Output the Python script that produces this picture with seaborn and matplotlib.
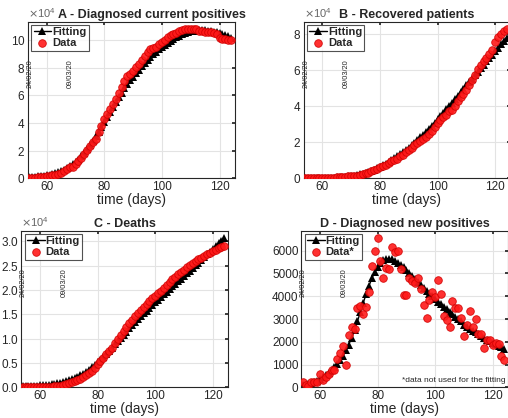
import numpy as np
import pandas as pd
import matplotlib
matplotlib.use('Agg')
import matplotlib.pyplot as plt
import seaborn as sns
from matplotlib.ticker import ScalarFormatter

# giorni (0 = 1 gennaio 2020), dal 24/02 al 04/05
days = list(range(54, 125))

# A - positivi attuali
current_data = [221, 311, 385, 588, 821, 1049, 1577, 1835, 2263, 2706, 3296, 3916, 5061, 6387, 7985,
                8514, 10590, 12839, 14955, 17750, 20603, 23073, 26062, 28710, 33190, 37860, 42681,
                46638, 50418, 54030, 57521, 62013, 66414, 70065, 73880, 75528, 77635, 80572, 83049,
                85388, 88274, 91246, 93187, 94067, 95262, 96877, 98273, 100269, 102253, 103616,
                104291, 105418, 106607, 106962, 107771, 108257, 108237, 107709, 107699, 106848,
                106527, 105847, 106103, 105813, 105205, 104657, 101551, 100943, 100704, 100179, 99980]
current_fit = [900, 1000, 1150, 1350, 1600, 1900, 2250, 2700, 3200, 3800, 4500, 5350, 6350, 7500, 8850,
               10100, 11500, 13500, 15800, 18300, 21000, 23900, 27000, 30300, 33700, 37200, 40800,
               44400, 48000, 51600, 55100, 58500, 61800, 65000, 68000, 70900, 73600, 76200, 78700,
               81100, 83400, 85600, 87700, 89700, 91600, 93400, 95100, 96700, 98200, 99600, 100900,
               102100, 103200, 104200, 105100, 105800, 106400, 106800, 107000, 107100, 107100,
               107000, 106800, 106500, 106100, 105600, 105000, 104300, 103500, 102700, 101800]

# B - guariti
recovered_data = [1, 1, 3, 45, 46, 50, 83, 149, 160, 276, 414, 523, 589, 622, 724, 1004, 1045, 1258,
                  1439, 1966, 2335, 2749, 2941, 4025, 4440, 5129, 6072, 7024, 7432, 8326, 9362, 10361,
                  10950, 12384, 13030, 14620, 15729, 16847, 18278, 19758, 20996, 21815, 22837, 24392,
                  26491, 28470, 30455, 32534, 34211, 35435, 37130, 38092, 40164, 42727, 44927, 47055,
                  48877, 51600, 54543, 57576, 60498, 63120, 64928, 66624, 68941, 71252, 75945, 78249,
                  79914, 81654, 82879]
recovered_fit = [60, 70, 85, 100, 120, 145, 175, 210, 255, 310, 380, 465, 570, 700, 860, 1050, 1280,
                 1550, 1870, 2240, 2660, 3130, 3650, 4220, 4840, 5500, 6300, 7150, 8050, 9000, 10000,
                 11050, 12150, 13300, 14500, 15750, 17050, 18400, 19800, 21250, 22750, 24300, 25900,
                 27550, 29250, 31000, 32800, 34650, 36500, 38350, 40200, 42100, 44000, 45900, 47800,
                 49700, 51600, 53500, 55400, 57300, 59200, 61100, 63000, 64900, 66800, 68700, 70600,
                 72500, 74400, 76300, 78200]

# C - deceduti
deaths_data = [7, 10, 12, 17, 21, 29, 34, 52, 79, 107, 148, 197, 233, 366, 463, 631, 827, 1016, 1266,
               1441, 1809, 2158, 2503, 2978, 3405, 4032, 4825, 5476, 6077, 6820, 7503, 8165, 9134,
               10023, 10779, 11591, 12428, 13155, 13915, 14681, 15362, 15887, 16523, 17127, 17669,
               18279, 18849, 19468, 19899, 20465, 21067, 21645, 22170, 22745, 23227, 23660, 24114,
               24648, 25085, 25549, 25969, 26384, 26644, 26977, 27359, 27682, 27967, 28236, 28710,
               28884, 29079]
deaths_fit = [250, 270, 290, 310, 340, 370, 400, 440, 490, 550, 620, 700, 800, 920, 1060, 1220, 1410,
              1630, 1880, 2160, 2480, 2830, 3220, 3650, 4110, 4610, 5140, 5700, 6290, 6900, 7530, 8170,
              8820, 9480, 10140, 10800, 11450, 12100, 12740, 13370, 13990, 14600, 15200, 15790, 16370,
              16940, 17500, 18050, 18600, 19140, 19680, 20210, 20740, 21270, 21800, 22330, 22860,
              23420, 23980, 24540, 25100, 25660, 26220, 26780, 27340, 27900, 28460, 29020, 29580,
              30140, 30700]

# D - nuovi positivi
new_data = [221, 93, 78, 250, 238, 240, 566, 342, 466, 587, 769, 778, 1247, 1492, 1797, 977, 2313,
            2651, 2547, 3497, 3590, 3233, 3526, 4207, 5322, 5986, 6557, 5560, 4789, 5249, 5210, 6153,
            5959, 5974, 5217, 4050, 4053, 4782, 4668, 4585, 4805, 4316, 3599, 3039, 3836, 4204, 3951,
            4694, 4092, 3153, 2972, 2667, 3786, 3493, 3491, 3047, 2256, 2729, 3370, 2646, 3021, 2357,
            2324, 1739, 2091, 2086, 1872, 1965, 1900, 1389, 1221]
new_fit = [80, 110, 140, 180, 230, 290, 360, 440, 530, 630, 740, 870, 1020, 1190, 1390, 1620, 1880,
           2180, 2520, 2900, 3300, 3700, 4090, 4450, 4780, 5060, 5290, 5460, 5580, 5640, 5650, 5620,
           5560, 5480, 5380, 5270, 5150, 5030, 4900, 4770, 4640, 4510, 4380, 4250, 4120, 4000, 3880,
           3760, 3640, 3530, 3420, 3310, 3200, 3100, 3000, 2900, 2750, 2660, 2570, 2490, 2410, 2330,
           2250, 2170, 2100, 2030, 1960, 1890, 1820, 1750, 1690]

date_labels = ['24/02/20', '09/03/20']
date_days = [54, 68]

sns.set_theme(style='whitegrid')
plt.rcParams['font.family'] = ['Liberation Sans', 'DejaVu Sans']

fig = plt.figure(figsize=(5.08, 4.18), dpi=100)
W, H = 508, 418


def make_axes(x60, top, bottom):
    # posizione in pixel: x60 = pixel del tick 60
    left = x60 - 6.5 * 2.88
    width = 71.8 * 2.88
    return fig.add_axes([left / W, (H - bottom) / H, width / W, (bottom - top) / H])


# (assi, fit, dati, titolo, x del titolo, ymax, passo tick y, notazione x10^4, etichetta dati)
panels = [
    (make_axes(46.7, 21.7, 178.3), current_fit, current_data, 'A - Diagnosed current positives', 0.60, 113300, 20000, True, 'Data'),
    (make_axes(322.3, 21.7, 178.3), recovered_fit, recovered_data, 'B - Recovered patients', 0.5, 87000, 20000, True, 'Data'),
    (make_axes(40.0, 230.7, 387.3), deaths_fit, deaths_data, 'C - Deaths', 0.5, 32200, 5000, True, 'Data'),
    (make_axes(320.0, 230.7, 387.3), new_fit, new_data, 'D - Diagnosed new positives', 0.5, 6880, 1000, False, 'Data*'),
]

for ax, fit, data, title, tx, ymax, ystep, sci, data_label in panels:
    df = pd.DataFrame({'day': days, 'fit': fit, 'data': data})
    sns.lineplot(data=df, x='day', y='fit', ax=ax, color='black', marker='^', markersize=6,
                 markeredgewidth=0, linewidth=1, label='Fitting')
    sns.scatterplot(data=df, x='day', y='data', ax=ax, color='#ff1a1a', s=30, edgecolor='#d00000',
                    linewidth=0.6, alpha=0.9, label=data_label, zorder=3)
    ax.set_xlim(53.5, 125.3)
    ax.set_ylim(0, ymax)
    ax.set_xticks([60, 80, 100, 120])
    ax.set_yticks(np.arange(0, ymax, ystep))
    ax.set_title(title, fontsize=9, fontweight='bold', pad=3, x=tx, y=1.0)
    ax.set_xlabel('time (days)', fontsize=10, labelpad=0, color='#262626')
    ax.set_ylabel('')
    ax.tick_params(axis='both', labelsize=8.5, colors='#262626', direction='in', length=2,
                   top=True, right=True, pad=2)
    ax.grid(True, color='#e3e3e3', linewidth=0.8)
    for sp in ax.spines.values():
        sp.set_color('#262626')
        sp.set_linewidth(0.8)
    if sci:
        fmt = ScalarFormatter(useMathText=True)
        fmt.set_powerlimits((4, 4))
        ax.yaxis.set_major_formatter(fmt)
        ax.yaxis.get_offset_text().set_fontsize(8)
        ax.yaxis.get_offset_text().set_color('#666666')
    for d, lab in zip(date_days, date_labels):
        ax.text(d + 0.3, ymax * 0.577, lab, rotation=90, fontsize=5.3, ha='center', va='bottom')
    leg = ax.legend(loc='upper left', prop={'weight': 'bold', 'size': 8},
                    frameon=True, fancybox=False, borderpad=0.2, labelspacing=0.1,
                    handlelength=1.6, handletextpad=0.1, borderaxespad=0.3)
    leg.get_frame().set_edgecolor('#262626')
    leg.get_frame().set_linewidth(0.8)

panels[3][0].text(0.99, 0.02, '*data not used for the fitting', transform=panels[3][0].transAxes,
                  fontsize=6, ha='right', va='bottom')

fig.savefig('out.png', dpi=100)
